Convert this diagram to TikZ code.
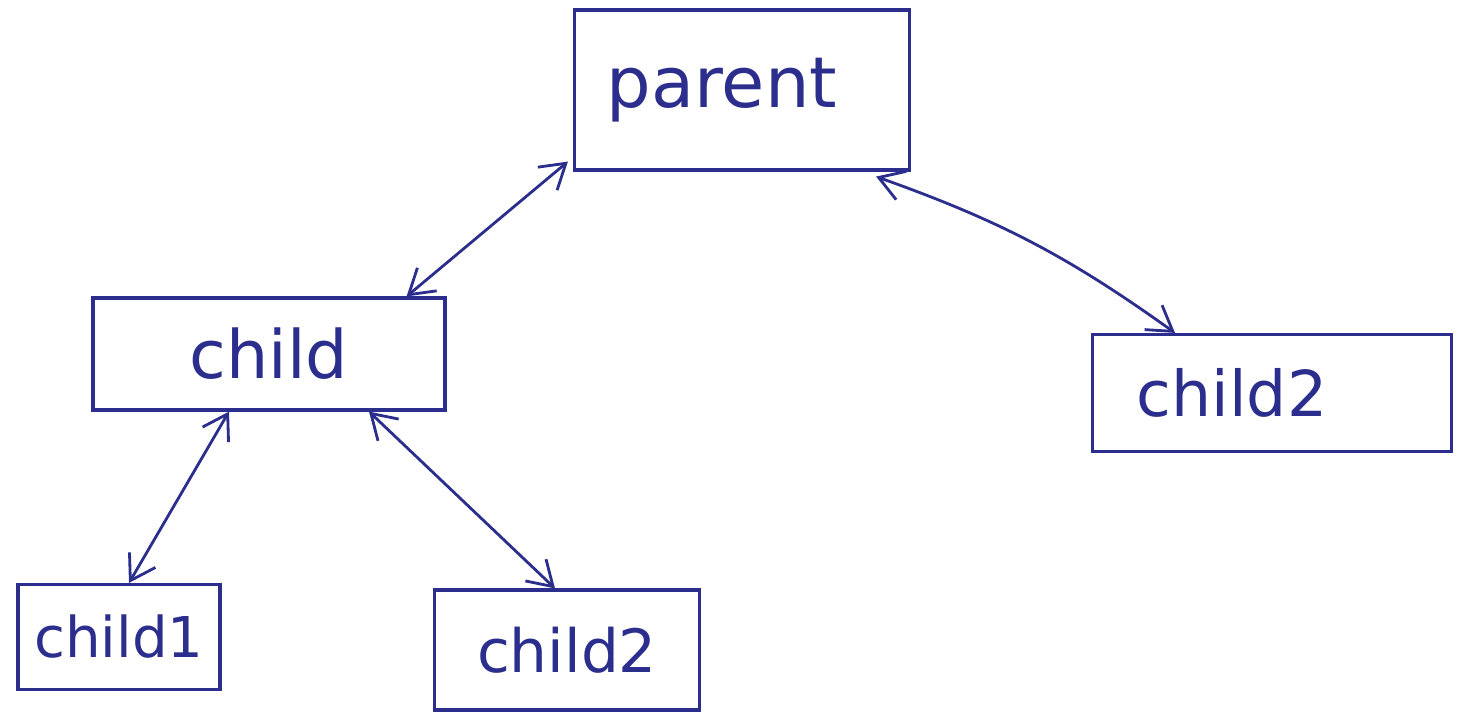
\documentclass[tikz,border=0pt]{standalone}
\usepackage{fontspec}
\setmainfont{DejaVu Sans}
\usetikzlibrary{arrows.meta}
\definecolor{ink}{HTML}{2B2E8C}
\tikzset{
  box/.style={draw=ink, line width=0.9pt, inner sep=0pt, text=ink},
  link/.style={draw=ink, line width=0.8pt, {Straight Barb[length=2.4mm,width=3mm]}-{Straight Barb[length=2.4mm,width=3mm]}}
}
\begin{document}
\begin{tikzpicture}
\useasboundingbox (0,0) rectangle (14.67,7.15);
\node[box, minimum width=3.35cm, minimum height=1.6cm, text width=3.35cm, align=center, font=\fontsize{20}{24}\selectfont] (parent) at (7.42,6.25) {\hspace*{-0.4cm}parent};
\node[box, minimum width=3.52cm, minimum height=1.12cm, font=\fontsize{19}{24}\selectfont] (child) at (2.69,3.61) {child};
\node[box, minimum width=3.59cm, minimum height=1.17cm, text width=3.59cm, align=center, font=\fontsize{18}{24}\selectfont] (childR) at (12.72,3.22) {\hspace*{-0.8cm}child2};
\node[box, minimum width=2.02cm, minimum height=1.05cm, font=\fontsize{16}{20}\selectfont] (childA) at (1.19,0.78) {child1};
\node[box, minimum width=2.65cm, minimum height=1.2cm, font=\fontsize{17}{20}\selectfont] (childB) at (5.67,0.65) {child2};

\draw[link] ([xshift=-0.05cm,yshift=0.1cm]parent.south west) -- ([xshift=-0.4cm]child.north east);
\draw[link] ([xshift=-0.35cm,yshift=-0.05cm]parent.south east) to[bend left=8] ([xshift=-0.97cm]childR.north);
\draw[link] ([xshift=-0.4cm]child.south) -- ([xshift=0.1cm]childA.north);
\draw[link] ([xshift=1.0cm]child.south) -- ([xshift=-0.12cm]childB.north);
\end{tikzpicture}
\end{document}
